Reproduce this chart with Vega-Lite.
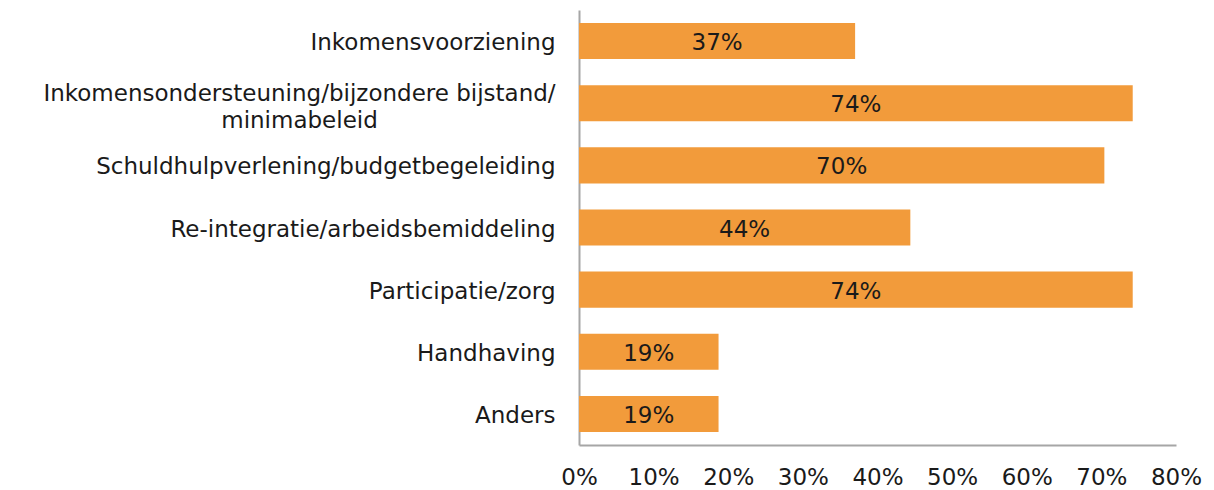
{
  "$schema": "https://vega.github.io/schema/vega-lite/v6.json",
  "width": 597,
  "height": 435,
  "autosize": "none",
  "padding": {"left": 579, "top": 10, "right": 38, "bottom": 45},
  "background": "white",
  "data": {
    "values": [
      {"cat": "Inkomensvoorziening", "v": 0.37},
      {"cat": "Inkomensondersteuning/bijzondere bijstand/|minimabeleid", "v": 0.742},
      {"cat": "Schuldhulpverlening/budgetbegeleiding", "v": 0.704},
      {"cat": "Re-integratie/arbeidsbemiddeling", "v": 0.444},
      {"cat": "Participatie/zorg", "v": 0.742},
      {"cat": "Handhaving", "v": 0.187},
      {"cat": "Anders", "v": 0.187}
    ]
  },
  "config": {
    "font": "DejaVu Sans",
    "view": {"stroke": null}
  },
  "encoding": {
    "y": {
      "field": "cat", "type": "nominal", "sort": null, "title": null,
      "scale": {"paddingInner": 0.42, "paddingOuter": 0.21},
      "axis": {
        "labelExpr": "split(datum.label, '|')",
        "labelFontSize": 23, "labelColor": "#1a1a1a",
        "labelPadding": {"condition": {"test": "indexof(datum.value, '|') >= 0", "value": 280}, "value": 24},
        "labelAlign": {"condition": {"test": "indexof(datum.value, '|') >= 0", "value": "center"}, "value": "right"},
        "labelOffset": {"condition": {"test": "indexof(datum.value, '|') >= 0", "value": -9}, "value": 2},
        "ticks": false, "domainColor": "#a6a6a6", "domainWidth": 2,
        "labelLimit": 700, "labelLineHeight": 27
      }
    }
  },
  "layer": [
    {
      "mark": {"type": "bar", "color": "#f29b3b"},
      "encoding": {
        "x": {
          "field": "v", "type": "quantitative", "title": null,
          "scale": {"domain": [0, 0.8], "nice": false},
          "axis": {
            "format": ".0%", "values": [0, 0.1, 0.2, 0.3, 0.4, 0.5, 0.6, 0.7, 0.8],
            "grid": false, "ticks": false, "labelFontSize": 23, "labelColor": "#1a1a1a",
            "labelPadding": 21, "domainColor": "#a6a6a6", "domainWidth": 2,
            "labelOverlap": false, "labelFlush": false, "labelBound": false
          }
        }
      }
    },
    {
      "transform": [{"calculate": "datum.v / 2", "as": "mid"}],
      "mark": {"type": "text", "fontSize": 23, "color": "#1a1a1a", "align": "center", "baseline": "middle", "dy": 2},
      "encoding": {
        "x": {"field": "mid", "type": "quantitative"},
        "text": {"field": "v", "type": "quantitative", "format": ".0%"}
      }
    }
  ]
}
